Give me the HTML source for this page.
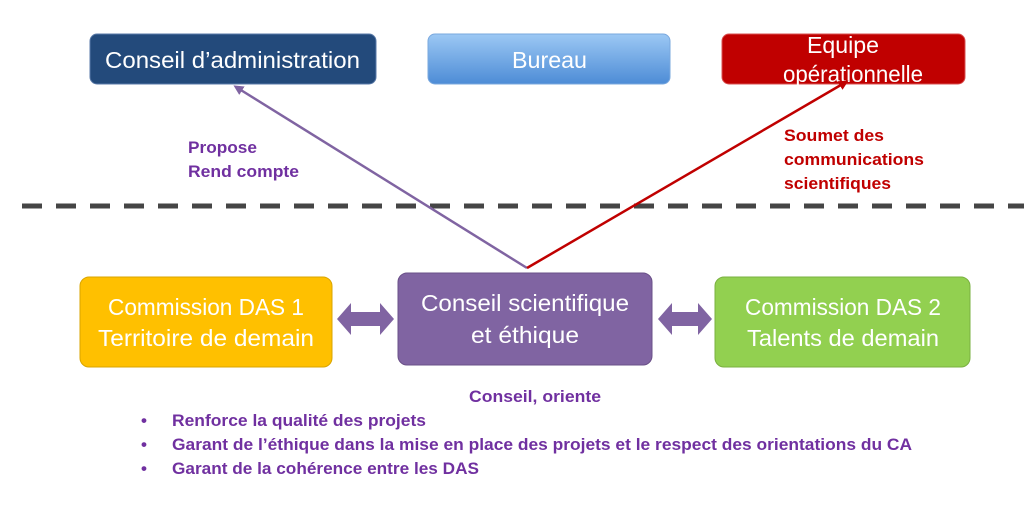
<!DOCTYPE html>
<html><head><meta charset="utf-8"><style>
html,body{margin:0;padding:0;background:#fff;width:1024px;height:515px;overflow:hidden}
svg text{font-family:"Liberation Sans",sans-serif}
</style></head><body>
<svg width="1024" height="515" viewBox="0 0 1024 515" xmlns="http://www.w3.org/2000/svg">
<defs>
<linearGradient id="bl" x1="0" y1="0" x2="0" y2="1"><stop offset="0" stop-color="#9cc8f4"/><stop offset="1" stop-color="#4d8cd6"/></linearGradient>
<marker id="ap" markerWidth="10" markerHeight="10" refX="7" refY="5" orient="auto" markerUnits="userSpaceOnUse"><path d="M0,0 L10,5 L0,10 z" fill="#8064a2"/></marker>
<marker id="ar" markerWidth="10" markerHeight="10" refX="7" refY="5" orient="auto" markerUnits="userSpaceOnUse"><path d="M0,0 L10,5 L0,10 z" fill="#c00000"/></marker>
</defs>
<rect x="90" y="34" width="286" height="50" rx="7" fill="#234a7b" stroke="#5a7aa8"/>
<text x="105" y="68" font-size="23" fill="#fff" textLength="255" lengthAdjust="spacingAndGlyphs">Conseil d’administration</text>
<rect x="428" y="34" width="242" height="50" rx="7" fill="url(#bl)" stroke="#7aa8de"/>
<text x="512" y="68" font-size="23" fill="#fff" textLength="75" lengthAdjust="spacingAndGlyphs">Bureau</text>
<rect x="722" y="34" width="243" height="50" rx="7" fill="#c00000" stroke="#d85050"/>
<text x="807" y="53" font-size="23" fill="#fff" textLength="72" lengthAdjust="spacingAndGlyphs">Equipe</text>
<text x="783" y="82" font-size="23" fill="#fff" textLength="140" lengthAdjust="spacingAndGlyphs">opérationnelle</text>
<line x1="22" y1="206" x2="1024" y2="206" stroke="#454545" stroke-width="5" stroke-dasharray="20 14"/>
<line x1="527" y1="268" x2="236" y2="87" stroke="#8064a2" stroke-width="2.5" marker-end="url(#ap)"/>
<line x1="527" y1="268" x2="846" y2="82" stroke="#c00000" stroke-width="2.5" marker-end="url(#ar)"/>
<g font-size="17" font-weight="bold">
<text x="188" y="153" fill="#7030a0" textLength="69" lengthAdjust="spacingAndGlyphs">Propose</text>
<text x="188" y="177" fill="#7030a0" textLength="111" lengthAdjust="spacingAndGlyphs">Rend compte</text>
<text x="784" y="141" fill="#c00000" textLength="100" lengthAdjust="spacingAndGlyphs">Soumet des</text>
<text x="784" y="165" fill="#c00000" textLength="140" lengthAdjust="spacingAndGlyphs">communications</text>
<text x="784" y="189" fill="#c00000" textLength="107" lengthAdjust="spacingAndGlyphs">scientifiques</text>
</g>
<rect x="80" y="277" width="252" height="90" rx="9" fill="#ffc000" stroke="#d9a500"/>
<text x="108" y="315" font-size="23" fill="#fff" textLength="196" lengthAdjust="spacingAndGlyphs">Commission DAS 1</text>
<text x="98" y="346" font-size="23" fill="#fff" textLength="216" lengthAdjust="spacingAndGlyphs">Territoire de demain</text>
<rect x="398" y="273" width="254" height="92" rx="9" fill="#8064a2" stroke="#6a5088"/>
<text x="421" y="311" font-size="23" fill="#fff" textLength="208" lengthAdjust="spacingAndGlyphs">Conseil scientifique</text>
<text x="471" y="343" font-size="23" fill="#fff" textLength="108" lengthAdjust="spacingAndGlyphs">et éthique</text>
<rect x="715" y="277" width="255" height="90" rx="9" fill="#92d050" stroke="#7ab040"/>
<text x="745" y="315" font-size="23" fill="#fff" textLength="196" lengthAdjust="spacingAndGlyphs">Commission DAS 2</text>
<text x="747" y="346" font-size="23" fill="#fff" textLength="192" lengthAdjust="spacingAndGlyphs">Talents de demain</text>
<path d="M337,319 L351,303 L351,312 L380,312 L380,303 L394,319 L380,335 L380,326 L351,326 L351,335 Z" fill="#8064a2"/>
<path d="M658,319 L672,303 L672,312 L698,312 L698,303 L712,319 L698,335 L698,326 L672,326 L672,335 Z" fill="#8064a2"/>
<g font-size="17" font-weight="bold" fill="#7030a0">
<text x="469" y="402" textLength="132" lengthAdjust="spacingAndGlyphs">Conseil, oriente</text>
<text x="141" y="426">•</text><text x="172" y="426" textLength="254" lengthAdjust="spacingAndGlyphs">Renforce la qualité des projets</text>
<text x="141" y="450">•</text><text x="172" y="450" textLength="740" lengthAdjust="spacingAndGlyphs">Garant de l’éthique dans la mise en place des projets et le respect des orientations du CA</text>
<text x="141" y="474">•</text><text x="172" y="474" textLength="307" lengthAdjust="spacingAndGlyphs">Garant de la cohérence entre les DAS</text>
</g>
</svg>
</body></html>
